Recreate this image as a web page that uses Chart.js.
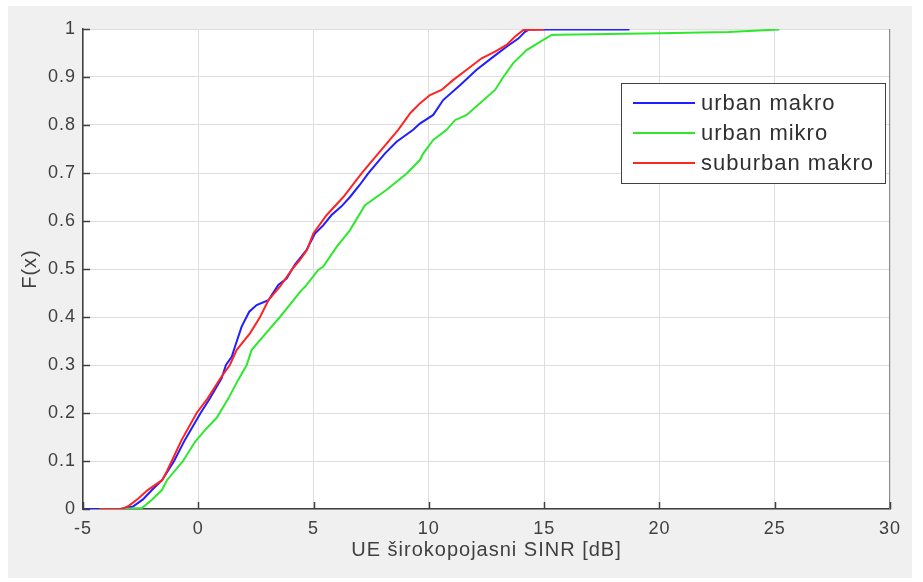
<!DOCTYPE html>
<html>
<head>
<meta charset="utf-8">
<script src="https://cdn.jsdelivr.net/npm/chart.js@4.4.1/dist/chart.umd.min.js"></script>
<style>
  html, body { margin: 0; padding: 0; background: #ffffff; }
  canvas { display: block; }
</style>
</head>
<body>
<canvas id="myChart" width="923" height="582"></canvas>
<script>
const xTicks = [-5, 0, 5, 10, 15, 20, 25, 30];
const yTicks = [0, 0.1, 0.2, 0.3, 0.4, 0.5, 0.6, 0.7, 0.8, 0.9, 1];
const seriesNames = ['urban makro', 'urban mikro', 'suburban makro'];

const urbanMakroX = [-5, -3.4, -2.83, -2.4, -2.0, -1.57, -1.05, -0.58, 0.1, 0.5, 1.01, 1.2, 1.45, 1.59, 1.88, 2.21, 2.53, 3.04, 3.47, 3.83, 4.2, 4.7, 5.06, 5.4, 5.78, 6.2, 6.58, 7.0, 7.37, 8.1, 8.6, 9.32, 9.61, 10.19, 10.62, 11.35, 12.07, 12.79, 13.37, 13.88, 14.17, 14.35, 18.7];
const urbanMakroY = [0, 0, 0.005, 0.02, 0.04, 0.06, 0.1, 0.144, 0.2, 0.23, 0.272, 0.3, 0.317, 0.338, 0.38, 0.411, 0.425, 0.435, 0.467, 0.48, 0.51, 0.54, 0.574, 0.59, 0.6125, 0.63, 0.65, 0.675, 0.699, 0.741, 0.765, 0.79, 0.803, 0.821, 0.852, 0.883, 0.915, 0.942, 0.963, 0.98, 0.994, 0.999, 0.999];

const urbanMikroX = [-3.4, -2.44, -2.0, -1.57, -1.36, -0.66, -0.14, 0.3, 0.8, 1.3, 1.73, 2.1, 2.31, 3.18, 3.54, 4.48, 4.63, 5.2, 5.42, 6.0, 6.58, 7.23, 8.17, 9.04, 9.61, 9.76, 10.19, 10.77, 11.13, 11.64, 12.14, 12.87, 13.23, 13.66, 14.24, 14.82, 15.32, 15.6, 20, 23, 25.2];
const urbanMikroY = [0, 0.002, 0.02, 0.04, 0.06, 0.1, 0.14, 0.165, 0.19, 0.23, 0.269, 0.3, 0.331, 0.38, 0.4, 0.456, 0.463, 0.498, 0.505, 0.546, 0.581, 0.633, 0.665, 0.699, 0.727, 0.741, 0.769, 0.79, 0.81, 0.821, 0.842, 0.873, 0.9, 0.929, 0.956, 0.973, 0.9875, 0.988, 0.991, 0.994, 0.999];

const suburbanMakroX = [-4.3, -3.3, -3.0, -2.6, -2.18, -1.57, -1.35, -1.15, -0.72, -0.07, 0.4, 1.01, 1.37, 1.66, 2.24, 2.68, 3.04, 3.54, 4.05, 4.41, 4.72, 4.99, 5.57, 6.29, 7.08, 7.81, 8.67, 9.2, 9.61, 10.05, 10.55, 11.06, 11.64, 12.29, 12.87, 13.37, 13.73, 14.1, 15.0];
const suburbanMakroY = [0, 0, 0.007, 0.022, 0.04, 0.06, 0.08, 0.1, 0.144, 0.2, 0.23, 0.276, 0.3, 0.331, 0.366, 0.4, 0.435, 0.463, 0.498, 0.519, 0.54, 0.574, 0.6125, 0.65, 0.699, 0.741, 0.79, 0.825, 0.845, 0.8625, 0.873, 0.894, 0.915, 0.939, 0.953, 0.967, 0.984, 0.998, 0.999];

const lineColors = ['#1f1fff', '#2ee82e', '#ff2424'];

function toPoints(xs, ys) {
    return xs.map((x, i) => ({ x: x, y: ys[i] }));
}

const textColor = '#404040';
const axisColor = '#404040';

/* background, inward ticks, box and legend */
const frame = {
    id: 'frame',
    beforeDraw(chart) {
        const { ctx, chartArea: a } = chart;
        ctx.save();
        ctx.fillStyle = '#ffffff';
        ctx.fillRect(0, 0, chart.width, chart.height);
        ctx.fillStyle = '#f0f0f0';
        ctx.fillRect(8, 6, 904, 572);
        ctx.fillStyle = '#ffffff';
        ctx.fillRect(a.left, a.top, a.right - a.left, a.bottom - a.top);
        ctx.restore();
        ctx.letterSpacing = '1px';
    },
    afterDraw(chart) {
        const { ctx, chartArea: a, scales } = chart;
        ctx.save();
        ctx.letterSpacing = '0px';
        // right border
        ctx.strokeStyle = '#8a8a8a';
        ctx.lineWidth = 1;
        ctx.beginPath();
        ctx.moveTo(a.right - 0.5, a.top);
        ctx.lineTo(a.right - 0.5, a.bottom);
        ctx.stroke();
        // inward ticks
        ctx.strokeStyle = axisColor;
        ctx.lineWidth = 1.5;
        ctx.beginPath();
        xTicks.forEach(v => {
            const px = Math.round(scales.x.getPixelForValue(v)) + 0.5;
            ctx.moveTo(px, a.bottom);
            ctx.lineTo(px, a.bottom - 7);
        });
        yTicks.forEach(v => {
            const py = Math.round(scales.y.getPixelForValue(v)) + 0.5;
            ctx.moveTo(a.left, py);
            ctx.lineTo(a.left + 7, py);
        });
        ctx.stroke();

        // legend
        const lx = 621, ly = 83, lw = 264, lh = 100;
        ctx.fillStyle = '#ffffff';
        ctx.fillRect(lx, ly, lw, lh);
        ctx.strokeStyle = '#404040';
        ctx.lineWidth = 1;
        ctx.strokeRect(lx + 0.5, ly + 0.5, lw, lh);
        ctx.font = '22px "Liberation Sans", Arial, sans-serif';
        ctx.letterSpacing = '1px';
        ctx.textBaseline = 'middle';
        ctx.textAlign = 'left';
        seriesNames.forEach((name, i) => {
            const y = ly + 20 + i * 30;
            ctx.strokeStyle = lineColors[i];
            ctx.lineWidth = 2;
            ctx.beginPath();
            ctx.moveTo(lx + 12, y);
            ctx.lineTo(lx + 74, y);
            ctx.stroke();
            ctx.fillStyle = '#303030';
            ctx.fillText(name, lx + 80, y + 1);
        });
        ctx.restore();
    }
};

const ctx = document.getElementById('myChart');

new Chart(ctx, {
    type: 'line',
    data: {
        datasets: [
            {
                label: seriesNames[0],
                data: toPoints(urbanMakroX, urbanMakroY),
                borderColor: lineColors[0],
                order: 3
            },
            {
                label: seriesNames[1],
                data: toPoints(urbanMikroX, urbanMikroY),
                borderColor: lineColors[1],
                order: 2
            },
            {
                label: seriesNames[2],
                data: toPoints(suburbanMakroX, suburbanMakroY),
                borderColor: lineColors[2],
                order: 1
            }
        ]
    },
    options: {
        responsive: false,
        animation: false,
        devicePixelRatio: 1,
        layout: { padding: { left: 0, top: 29, right: 33, bottom: 0 } },
        elements: {
            point: { radius: 0 },
            line: { borderWidth: 2, tension: 0 }
        },
        plugins: {
            legend: { display: false },
            tooltip: { enabled: false }
        },
        scales: {
            x: {
                type: 'linear',
                min: -5,
                max: 30,
                afterBuildTicks: s => { s.ticks = xTicks.map(v => ({ value: v })); },
                afterFit: s => { s.height = 73; },
                grid: { color: '#dedede', drawTicks: false },
                border: { display: true, color: axisColor, width: 1.5 },
                ticks: {
                    padding: 9,
                    color: textColor,
                    font: { family: '"Liberation Sans", Arial, sans-serif', size: 18 }
                },
                title: {
                    display: true,
                    text: 'UE širokopojasni SINR [dB]',
                    color: textColor,
                    padding: { top: 0, bottom: 20 },
                    font: { family: '"Liberation Sans", Arial, sans-serif', size: 20 }
                }
            },
            y: {
                type: 'linear',
                min: 0,
                max: 1,
                afterBuildTicks: s => { s.ticks = yTicks.map(v => ({ value: v })); },
                afterFit: s => { s.width = 83; },
                grid: { color: '#dedede', drawTicks: false },
                border: { display: true, color: axisColor, width: 1.5 },
                ticks: {
                    padding: 7,
                    color: textColor,
                    callback: v => String(+v.toFixed(1)),
                    font: { family: '"Liberation Sans", Arial, sans-serif', size: 18 }
                },
                title: {
                    display: true,
                    text: 'F(x)',
                    color: textColor,
                    padding: { top: 18, bottom: 0 },
                    font: { family: '"Liberation Sans", Arial, sans-serif', size: 20 }
                }
            }
        }
    },
    plugins: [frame]
});
</script>
</body>
</html>
